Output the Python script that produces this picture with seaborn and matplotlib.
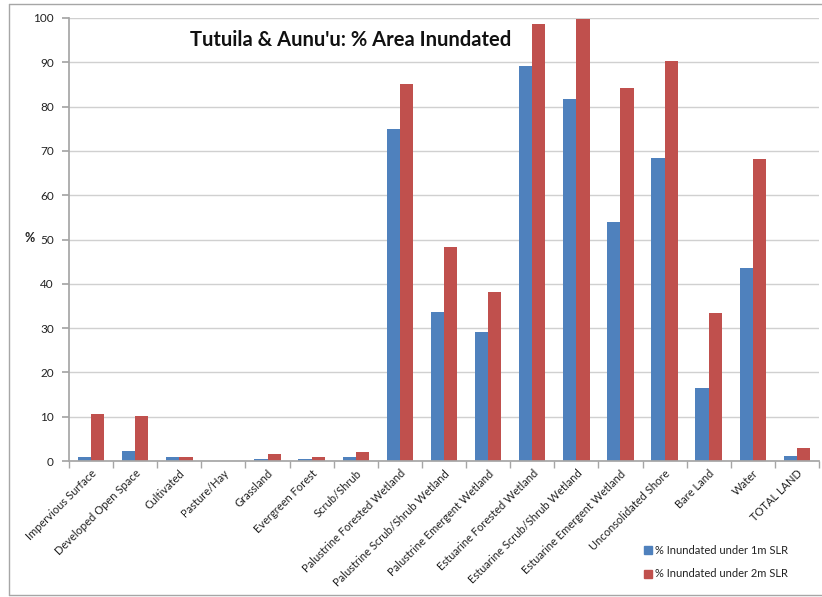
import matplotlib
matplotlib.use("Agg")
import matplotlib.pyplot as plt
import seaborn as sns
import pandas as pd
import numpy as np
from matplotlib.lines import Line2D
from matplotlib.ticker import FixedLocator, NullFormatter

categories = ["Impervious Surface", "Developed Open Space", "Cultivated", "Pasture/Hay",
              "Grassland", "Evergreen Forest", "Scrub/Shrub", "Palustrine Forested Wetland",
              "Palustrine Scrub/Shrub Wetland", "Palustrine Emergent Wetland",
              "Estuarine Forested Wetland", "Estuarine Scrub/Shrub Wetland",
              "Estuarine Emergent Wetland", "Unconsolidated Shore", "Bare Land", "Water",
              "TOTAL LAND"]
slr_1m = [1.0, 2.3, 0.8, 0.0, 0.4, 0.4, 0.8, 75.0, 33.6, 29.2, 89.2, 81.8, 54.0, 68.5, 16.5, 43.5, 1.2]
slr_2m = [10.5, 10.2, 1.0, 0.0, 1.6, 0.9, 2.1, 85.1, 48.2, 38.2, 98.6, 99.8, 84.1, 90.4, 33.5, 68.2, 3.0]
series_names = ["% Inundated under 1m SLR", "% Inundated under 2m SLR"]
title = "Tutuila & Aunu'u: % Area Inundated"

df = pd.DataFrame({
    "category": categories * 2,
    "value": slr_1m + slr_2m,
    "series": [series_names[0]] * len(categories) + [series_names[1]] * len(categories),
})

sns.set_theme(style="white")
plt.rcParams["font.family"] = ["Lato", "DejaVu Sans"]

fig = plt.figure(figsize=(8.22, 5.97), dpi=100)
ax = fig.add_axes([69 / 822, 1 - 461 / 597, (819 - 69) / 822, (461 - 18) / 597])

sns.barplot(data=df, x="category", y="value", hue="series", order=categories,
            hue_order=series_names, palette=["#4F81BD", "#C0504D"], width=0.6,
            saturation=1, ax=ax, legend=False, linewidth=0)

ax.set_xlim(-0.5, len(categories) - 0.5)
ax.set_ylim(0, 100)
ax.set_yticks(np.arange(0, 101, 10))
ax.yaxis.grid(True, color="#D0D0D0", linewidth=1)
ax.set_axisbelow(True)
for s in ["top", "right"]:
    ax.spines[s].set_visible(False)
ax.spines["left"].set_color("#A6A6A6")
ax.spines["bottom"].set_color("#A6A6A6")

ax.set_xticks(range(len(categories)))
ax.set_xticklabels(categories, rotation=45, ha="right", rotation_mode="anchor",
                   fontsize=8, color="#222222")
ax.tick_params(axis="x", which="major", length=0, pad=5)
ax.xaxis.set_minor_locator(FixedLocator(np.arange(-0.5, len(categories), 1.0)))
ax.xaxis.set_minor_formatter(NullFormatter())
ax.tick_params(axis="x", which="minor", bottom=True, length=5, color="#A6A6A6", width=1)
ax.tick_params(axis="y", left=True, length=5, color="#A6A6A6", labelsize=8.5,
               labelcolor="#222222", pad=6)

ax.set_xlabel("")
ax.set_ylabel("%", rotation=0, fontsize=9, fontweight="bold", color="#222222")
ax.yaxis.set_label_coords(-0.052, 0.49)

ax.text(0.376, 0.95, title, transform=ax.transAxes, ha="center", va="center",
        fontsize=14.5, fontweight="bold", color="#111111")

handles = [Line2D([0], [0], marker="s", linestyle="none", markersize=6,
                  markerfacecolor=c, markeredgecolor=c) for c in ["#4F81BD", "#C0504D"]]
fig.legend(handles, series_names, loc="center left", bbox_to_anchor=(0.777, 0.058),
           bbox_transform=fig.transFigure, frameon=False, fontsize=8, labelspacing=1.1,
           handlelength=0.6, handletextpad=0.35, borderpad=0, labelcolor="#222222")

# outer chart frame
frame_kw = dict(color="#A6A6A6", linewidth=1, transform=fig.transFigure)
fig.add_artist(Line2D([9 / 822, 9 / 822], [1 - 4 / 597, 1 - 595 / 597], **frame_kw))
fig.add_artist(Line2D([9 / 822, 1.0], [1 - 4 / 597, 1 - 4 / 597], **frame_kw))
fig.add_artist(Line2D([9 / 822, 1.0], [1 - 595 / 597, 1 - 595 / 597], **frame_kw))

fig.savefig("out.png", dpi=100)
